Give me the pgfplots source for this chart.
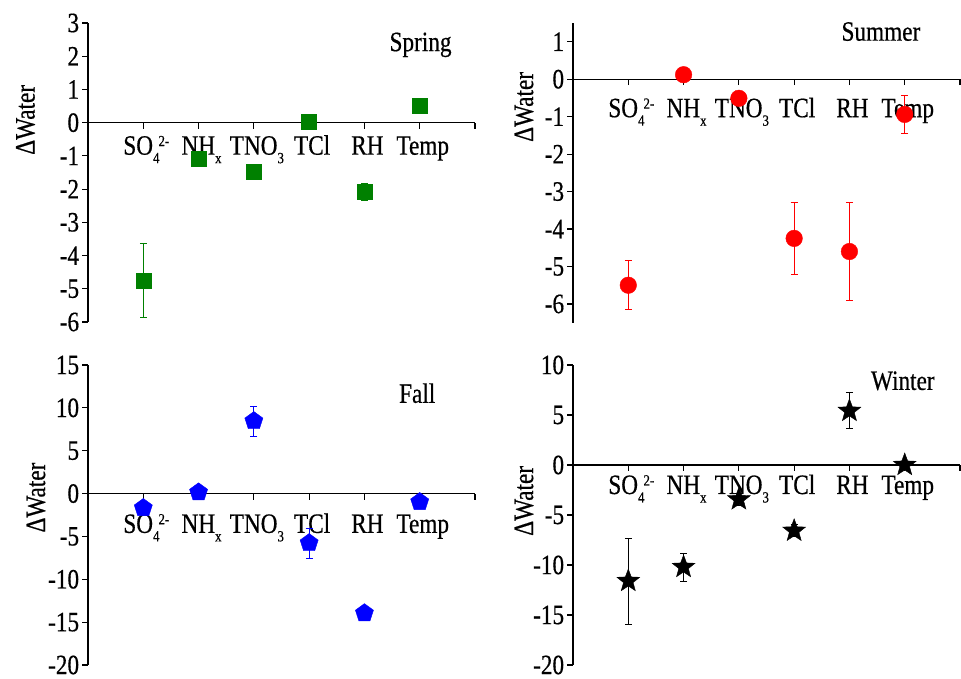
\documentclass[border=0pt]{standalone}
\usepackage{fontspec}
\setmainfont{Liberation Serif}[FakeStretch=0.83, FakeBold=0.5]
\usepackage{pgfplots}
\pgfplotsset{compat=1.18}
\definecolor{sgreen}{RGB}{0,128,0}
\definecolor{sred}{RGB}{255,0,0}
\definecolor{sblue}{RGB}{0,0,255}
\pgfdeclareplotmark{fstar}{%
  \pgfpathmoveto{\pgfpointpolar{90}{\pgfplotmarksize}}%
  \pgfpathlineto{\pgfpointpolar{126}{0.42\pgfplotmarksize}}%
  \pgfpathlineto{\pgfpointpolar{162}{\pgfplotmarksize}}%
  \pgfpathlineto{\pgfpointpolar{198}{0.42\pgfplotmarksize}}%
  \pgfpathlineto{\pgfpointpolar{234}{\pgfplotmarksize}}%
  \pgfpathlineto{\pgfpointpolar{270}{0.42\pgfplotmarksize}}%
  \pgfpathlineto{\pgfpointpolar{306}{\pgfplotmarksize}}%
  \pgfpathlineto{\pgfpointpolar{342}{0.42\pgfplotmarksize}}%
  \pgfpathlineto{\pgfpointpolar{18}{\pgfplotmarksize}}%
  \pgfpathlineto{\pgfpointpolar{54}{0.42\pgfplotmarksize}}%
  \pgfpathclose\pgfusepathqfillstroke}
\newcommand\subx[1]{\raisebox{-8.5pt}{\fontsize{15.5}{15.5}\selectfont #1}}
\newcommand\supx[1]{\raisebox{8.5pt}{\fontsize{15.5}{15.5}\selectfont #1}}
\pgfplotsset{
  panel/.style={
    scale only axis, width=387pt, anchor=south west,
    xmin=0, xmax=7, clip=false, set layers,
    axis x line=middle, axis y line=left,
    axis line style={-, line width=1.2pt},
    every inner x axis line/.append style={-},
    every outer y axis line/.append style={-},
    hide obscured x ticks=false, hide obscured y ticks=false,
    xtick={1,...,7},
    xticklabels={SO\subx{4}\kern-1pt\supx{2-}, NH\subx{x}, TNO\subx{3}, TCl, RH, Temp, {}},
    tick align=outside, major tick length=6pt,
    tick style={line width=1.2pt, black},
    yticklabel style={inner sep=0pt, xshift=-2.7pt},
    xticklabel style={anchor=base, inner sep=0pt, xshift=3pt},
    /pgf/number format/assume math mode=true,
    error bars/error bar style={line width=0.9pt},
    error bars/error mark options={line width=0.9pt, mark size=3.5pt, rotate=90},
  }
}
\begin{document}
\fontsize{28}{31}\selectfont
\begin{tikzpicture}
% Spring
\begin{axis}[panel, at={(88pt,353pt)}, height=299pt, ymin=-6, ymax=3, ytick={-6,...,3},
  xticklabel style={yshift=-26pt}]
\addplot[color=sgreen, only marks, mark=square*, mark size=7.5pt,
  error bars/.cd, y dir=both, y explicit] table[x=x, y=y, y error=e]{
x y e
1 -4.75 1.1
2 -1.07 0.08
3 -1.48 0.1
4 0.04 0.05
5 -2.08 0.25
6 0.50 0.05
};
\node[anchor=base east] at (rel axis cs:0.964,0.906) {Spring};
\node[rotate=90] at ([xshift=-62.5pt]rel axis cs:0,0.676) {ΔWater};
\end{axis}
% Summer
\begin{axis}[panel, at={(573pt,352.3pt)}, height=299.7pt, ymin=-6.5, ymax=1.5, ytick={-6,...,1},
  xticklabel style={yshift=-32pt}]
\addplot[color=sred, only marks, mark=*, mark size=8.3pt,
  error bars/.cd, y dir=both, y explicit] table[x=x, y=y, y error=e]{
x y e
1 -5.50 0.65
2 0.12 0.05
3 -0.51 0.05
4 -4.25 0.96
5 -4.60 1.30
6 -0.94 0.50
};
\node[anchor=base east] at (rel axis cs:0.922,0.941) {Summer};
\node[rotate=90] at ([xshift=-49pt]rel axis cs:0,0.72) {ΔWater};
\end{axis}
% Fall
\begin{axis}[panel, at={(88pt,10pt)}, height=300pt, ymin=-20, ymax=15, ytick={-20,-15,...,15},
  xticklabel style={yshift=-33.3pt}]
\addplot[color=sblue, only marks, mark=pentagon*, mark size=9.5pt,
  error bars/.cd, y dir=both, y explicit] table[x=x, y=y, y error=e]{
x y e
1 -1.68 0.6
2 0.15 0.3
3 8.46 1.75
4 -5.77 1.75
5 -13.95 0.3
6 -0.98 0.3
};
\node[anchor=base east] at (rel axis cs:0.922,0.874) {Fall};
\node[rotate=90] at ([xshift=-52pt]rel axis cs:0,0.558) {ΔWater};
\end{axis}
% Winter
\begin{axis}[panel, at={(573pt,10pt)}, height=300pt, ymin=-20, ymax=10, ytick={-20,-15,...,10},
  xticklabel style={yshift=-23pt}]
\addplot[color=black, only marks, mark=fstar, mark size=12pt,
  error bars/.cd, y dir=both, y explicit] table[x=x, y=y, y error=e]{
x y e
1 -11.6 4.3
2 -10.2 1.4
3 -3.44 0.6
4 -6.58 0.6
5 5.41 1.8
6 0.0 0.3
};
\node[anchor=base east] at (rel axis cs:0.959,0.917) {Winter};
\node[rotate=90] at ([xshift=-49pt]rel axis cs:0,0.547) {ΔWater};
\end{axis}
\pgfresetboundingbox
\path[use as bounding box] (0,-4pt) rectangle (961pt,675pt);
\end{tikzpicture}
\end{document}
